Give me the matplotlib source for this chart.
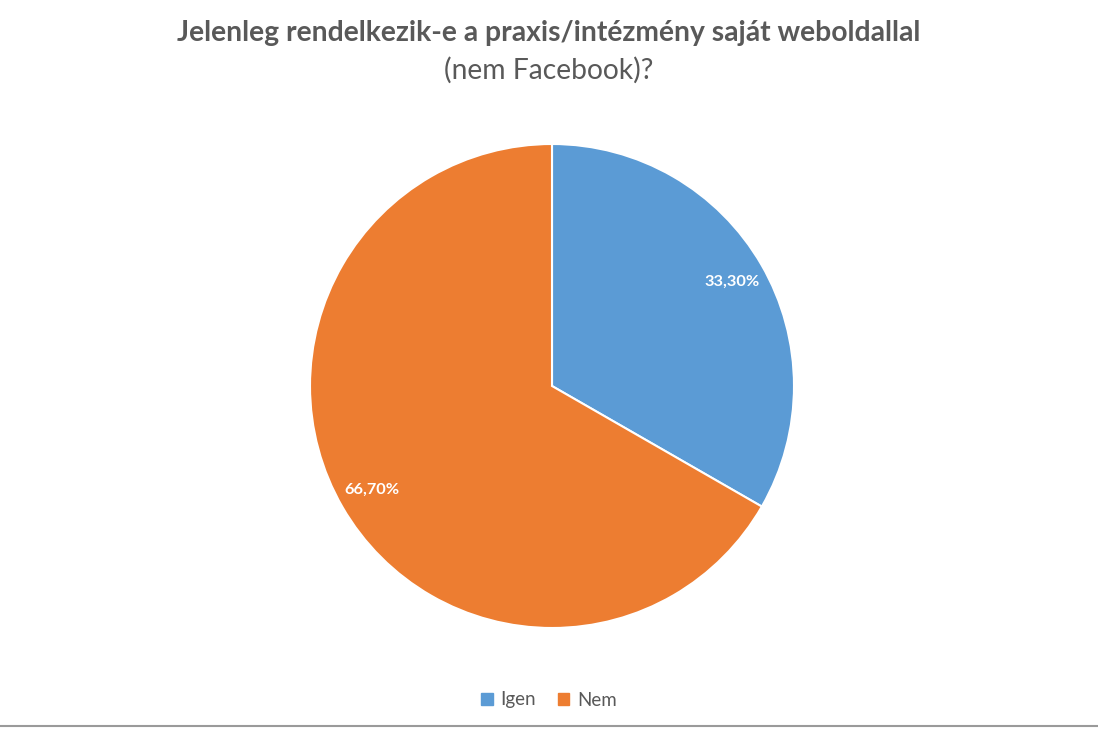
import matplotlib
matplotlib.use('Agg')
import matplotlib.pyplot as plt
from matplotlib.lines import Line2D
import numpy as np

# data
labels = ['Igen', 'Nem']
values = [33.3, 66.7]
colors = ['#5B9BD5', '#ED7D31']
pct_text = ['33,30%', '66,70%']

plt.rcParams['font.family'] = ['Lato', 'DejaVu Sans']

W, H = 1098, 731
fig = plt.figure(figsize=(W / 100, H / 100), dpi=100)

# pie placed by pixel centre / radius
cx, cy, r = 552, 386, 242
ax = fig.add_axes([(cx - r) / W, (H - cy - r) / H, 2 * r / W, 2 * r / H])
wedges, _ = ax.pie(values, colors=colors, startangle=90, counterclock=False,
                   radius=1, wedgeprops=dict(edgecolor='white', linewidth=1.5))
ax.set_xlim(-1, 1)
ax.set_ylim(-1, 1)
ax.set_aspect('equal')
ax.axis('off')

# data labels
for w, t in zip(wedges, pct_text):
    ang = np.deg2rad((w.theta1 + w.theta2) / 2)
    ax.text(0.86 * np.cos(ang), 0.86 * np.sin(ang), t, ha='center', va='center',
            color='white', fontsize=11.8, fontweight='bold')

fig.text(0.5, 1 - 33 / H, 'Jelenleg rendelkezik-e a praxis/intézmény saját weboldallal',
         ha='center', va='center', fontsize=20.3, fontweight='bold', color='#595959')
fig.text(0.5, 1 - 70 / H, '(nem Facebook)?', ha='center', va='center',
         fontsize=20.3, color='#595959')

handles = [plt.Rectangle((0, 0), 1, 1, color=c) for c in colors]
fig.legend(handles, labels, loc='center', bbox_to_anchor=(0.5, 1 - 700 / H), ncol=2,
           frameon=False, fontsize=13.5, handlelength=0.6, handleheight=0.6,
           handletextpad=0.4, columnspacing=1.2, labelcolor='#595959')

# chart border line at the bottom
fig.add_artist(Line2D([0, 1], [1 - 726 / H] * 2, color='#9a9a9a', linewidth=1.5,
                      transform=fig.transFigure))

fig.savefig('out.png', dpi=100)
